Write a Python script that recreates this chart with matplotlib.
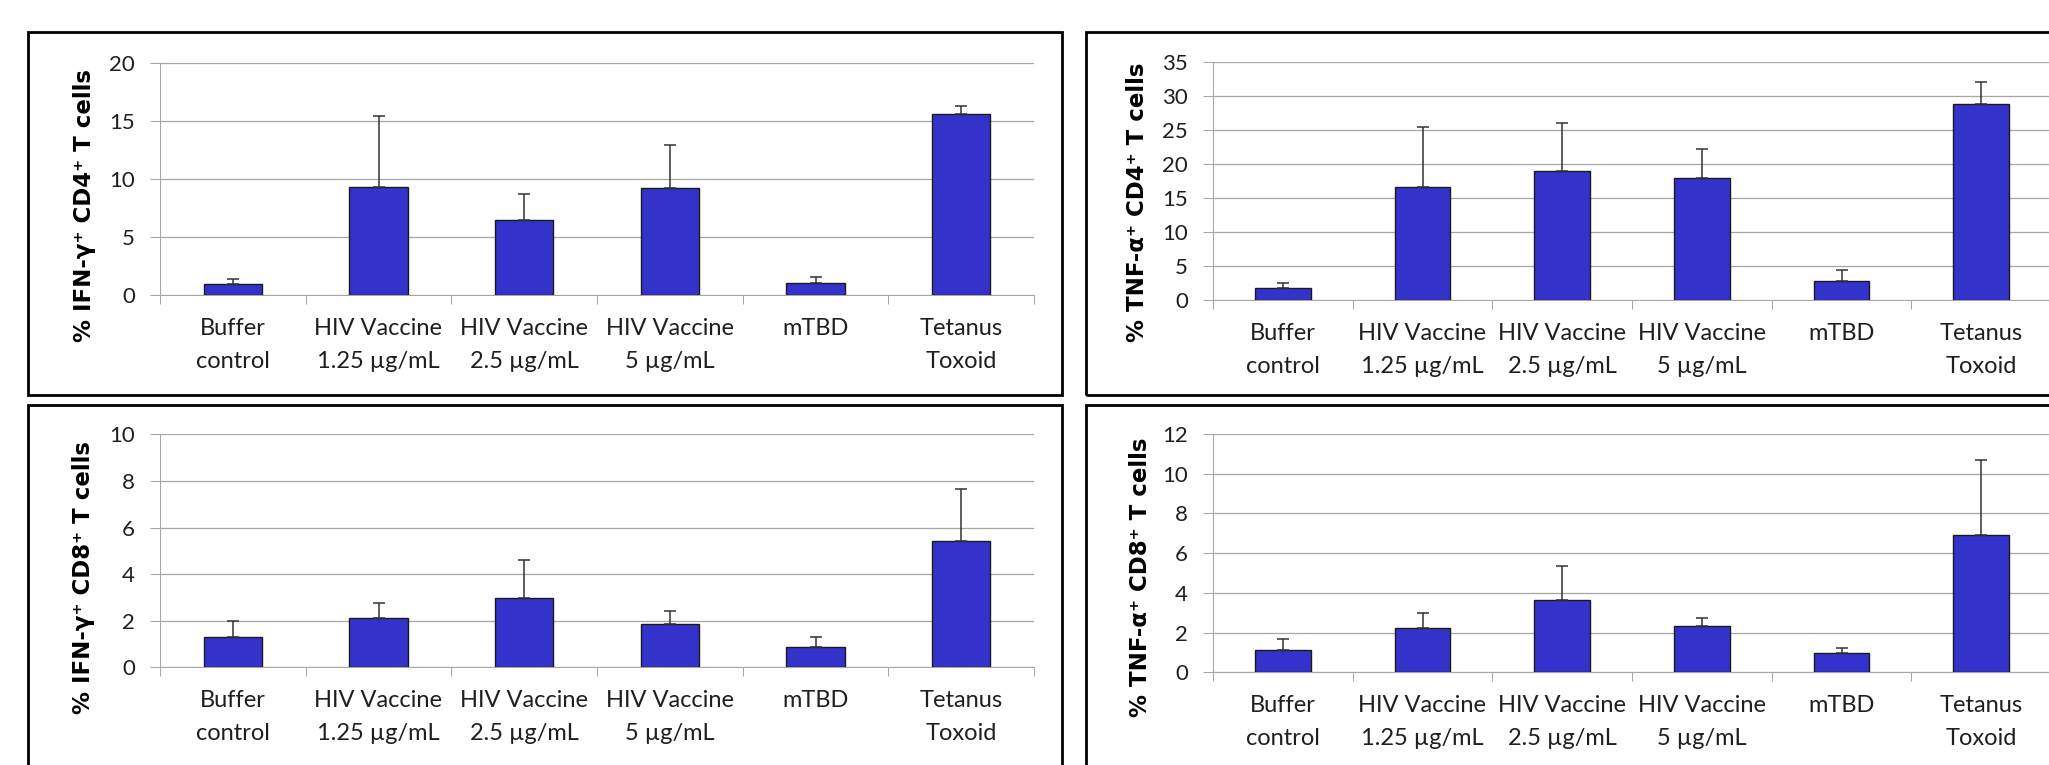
import matplotlib
matplotlib.use("Agg")
import matplotlib.pyplot as plt
from matplotlib.patches import Rectangle
import numpy as np

plt.rcParams["font.family"] = ["Lato", "DejaVu Sans"]

categories = ["Buffer\ncontrol", "HIV Vaccine\n1.25 µg/mL", "HIV Vaccine\n2.5 µg/mL",
              "HIV Vaccine\n5 µg/mL", "mTBD", "Tetanus\nToxoid"]

# % positive cells (mean) and upper error
ifng_cd4 = [1.0, 9.35, 6.5, 9.2, 1.1, 15.6]
ifng_cd4_err = [0.45, 6.1, 2.2, 3.75, 0.45, 0.65]
tnfa_cd4 = [1.8, 16.6, 18.95, 17.9, 2.85, 28.85]
tnfa_cd4_err = [0.7, 8.9, 7.05, 4.3, 1.5, 3.3]
ifng_cd8 = [1.32, 2.13, 2.96, 1.86, 0.87, 5.42]
ifng_cd8_err = [0.65, 0.62, 1.63, 0.54, 0.45, 2.25]
tnfa_cd8 = [1.14, 2.23, 3.66, 2.35, 0.99, 6.93]
tnfa_cd8_err = [0.56, 0.76, 1.69, 0.39, 0.22, 3.78]

W, H = 2049, 765
fig = plt.figure(figsize=(W / 100, H / 100), dpi=100)

def frac(l, t, r, b):
    return [l / W, 1 - b / H, (r - l) / W, (b - t) / H]

GRID = "#a6a6a6"
TXT = "#1f1f1f"

# (values, errors, ylabel, ymax, step, axes px box, label baseline x, label centre y, frame px box)
panels = [
    (ifng_cd4, ifng_cd4_err, "% IFN-γ⁺ CD4⁺ T cells", 20, 5,
     (160, 62.7, 1034, 295.5), 91, 205, (27.5, 32, 1062.3, 395)),
    (tnfa_cd4, tnfa_cd4_err, "% TNF-α⁺ CD4⁺ T cells", 35, 5,
     (1213, 62.3, 2051, 300), 1144, 202, (1086, 32, 2150, 395)),
    (ifng_cd8, ifng_cd8_err, "% IFN-γ⁺ CD8⁺ T cells", 10, 2,
     (160, 434.3, 1034, 667.3), 90, 577, (27.5, 404.5, 1062.3, 900)),
    (tnfa_cd8, tnfa_cd8_err, "% TNF-α⁺ CD8⁺ T cells", 12, 2,
     (1213, 434, 2051, 672.3), 1147, 577, (1086, 405, 2150, 900)),
]

x = np.arange(len(categories)) + 0.5
for vals, errs, ylab, ymax, step, box, lx, ly, frame in panels:
    fig.add_artist(Rectangle((frame[0] / W, 1 - frame[3] / H), (frame[2] - frame[0]) / W,
                             (frame[3] - frame[1]) / H, transform=fig.transFigure,
                             fill=False, lw=2, ec="black"))
    ax = fig.add_axes(frac(*box))
    ax.bar(x, vals, 0.4, color="#3333cc", edgecolor="#1a1a1a", lw=1.0, zorder=2)
    ax.errorbar(x, vals, yerr=[np.zeros(len(vals)), errs], fmt="none", ecolor="#333333",
                elinewidth=1.1, capsize=4.2, capthick=1.1, zorder=3)
    ax.set_xlim(0, len(categories))
    ax.set_ylim(0, ymax)
    ax.set_yticks(np.arange(0, ymax + step / 2, step))
    ax.set_xticks(np.arange(len(categories) + 1))
    ax.set_xticks(x, categories, minor=True)
    ax.tick_params(axis="x", which="major", length=6.5, width=0.75, color=GRID, labelbottom=False)
    ax.tick_params(axis="x", which="minor", length=0, pad=16.5, labelsize=17, labelcolor=TXT)
    ax.tick_params(axis="y", length=7.2, width=0.75, color=GRID, pad=10.8, labelsize=16,
                   labelcolor=TXT)
    for t in ax.get_xticklabels(minor=True):
        t.set_linespacing(1.7)
    ax.yaxis.grid(True, color=GRID, lw=0.9)
    ax.set_axisbelow(True)
    for s in ("top", "right"):
        ax.spines[s].set_visible(False)
    for s in ("left", "bottom"):
        ax.spines[s].set_color(GRID)
        ax.spines[s].set_linewidth(0.75)
    fig.text(lx / W, 1 - ly / H, ylab, rotation=90, rotation_mode="anchor", ha="center",
             va="baseline", fontsize=16.5, fontweight="bold", family=["DejaVu Sans"], color="black")

fig.savefig("out.png", dpi=100)
